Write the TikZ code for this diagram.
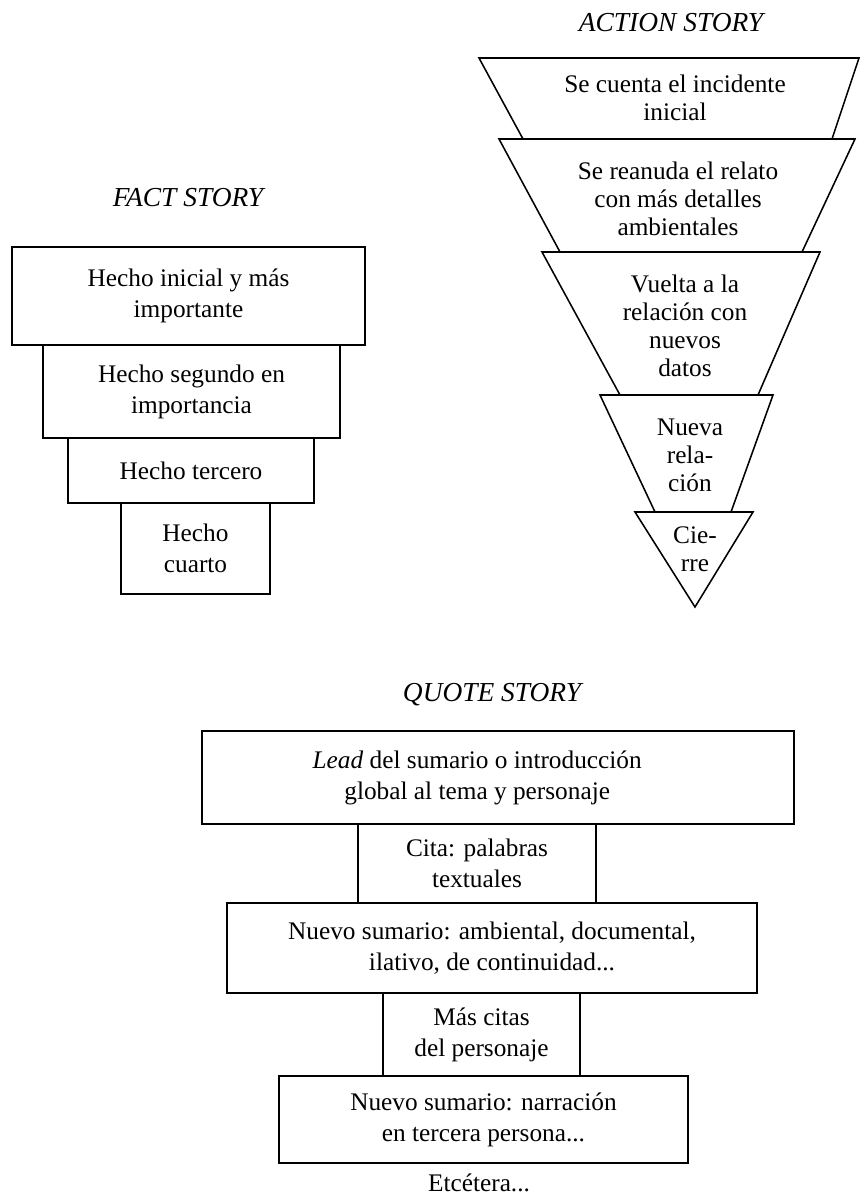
\documentclass[tikz,border=0pt]{standalone}
\usepackage{fontspec}
\setmainfont{Liberation Serif}
\usetikzlibrary{positioning}
\newcommand{\storyfont}{\fontsize{18}{22}\selectfont}
\newcommand{\funnelfont}{\fontsize{18}{20}\selectfont}
\newcommand{\titlefont}{\fontsize{19.5}{22}\selectfont\itshape}
\tikzset{
  % Box styles
  storybox/.style={rectangle, draw=black, line width=1.1pt, inner sep=2pt, align=center, font=\storyfont},
  funnelpiece/.style={draw=black, line width=1.1pt, line join=miter},
  % Text styles
  funneltext/.style={align=center, font=\funnelfont},
  storytext/.style={align=center, font=\storyfont},
  titlelabel/.style={font=\titlefont}
}

\begin{document}
\begin{tikzpicture}[x=0.025cm, y=-0.025cm]
  \useasboundingbox (0,0) rectangle (861,1197);

  % Fact story
  \node[titlelabel] (facttitle) at (188,198) {FACT STORY};
  \node[storybox, minimum width=8.83cm, minimum height=2.45cm] (hecho1) at (188.5,296) {Hecho inicial y más\\importante};
  \node[storybox, minimum width=7.43cm, minimum height=2.33cm] (hecho2) at (191.5,391.5) {Hecho segundo en\\importancia};
  \node[storybox, minimum width=6.15cm, minimum height=1.63cm] (hecho3) at (191,470.5) {Hecho tercero};
  \node[storybox, minimum width=3.73cm, minimum height=2.28cm] (hecho4) at (195.5,548.5) {Hecho\\cuarto};

  % Action story
  \node[titlelabel] (actiontitle) at (671,23) {ACTION STORY};
  \draw[funnelpiece] (479,58) -- (859,58) -- (832,139) -- (523,139) -- cycle;
  \draw[funnelpiece] (499,139) -- (855,139) -- (802,252) -- (560,252) -- cycle;
  \draw[funnelpiece] (542,252) -- (820,252) -- (758,395) -- (620,395) -- cycle;
  \draw[funnelpiece] (600,395) -- (773,395) -- (731,512) -- (655,512) -- cycle;
  \draw[funnelpiece] (635,512) -- (753,512) -- (695,607) -- cycle;
  \node[funneltext] (incidente) at (675,98) {Se cuenta el incidente\\inicial};
  \node[funneltext] (reanuda) at (678,199) {Se reanuda el relato\\con más detalles\\ambientales};
  \node[funneltext] (vuelta) at (685,326) {Vuelta a la\\relación con\\nuevos\\datos};
  \node[funneltext] (nueva) at (690,455) {Nueva\\rela-\\ción};
  \node[funneltext] (cierre) at (695,549) {Cie-\\rre};

  % Quote story
  \node[titlelabel] (quotetitle) at (492,695) {QUOTE STORY};
  \node[storybox, minimum width=14.8cm, minimum height=2.33cm] (lead) at (498,777.5) {};
  \node[storytext, xshift=-0.52cm] (leadtext) at (lead) {\textit{Lead} del sumario o introducción\\global al tema y personaje};
  \node[storybox, minimum width=5.95cm, minimum height=1.98cm] (cita) at (477,863.5) {Cita: palabras\\textuales};
  \node[storybox, minimum width=13.25cm, minimum height=2.25cm] (sumario1) at (492,948) {Nuevo sumario: ambiental, documental,\\ilativo, de continuidad...};
  \node[storybox, minimum width=4.93cm, minimum height=2.08cm] (citas) at (481.5,1034.5) {Más citas\\del personaje};
  \node[storybox, minimum width=10.23cm, minimum height=2.18cm] (sumario2) at (483.5,1119.5) {Nuevo sumario: narración\\en tercera persona...};
  \node[storytext, inner sep=1pt] (etcetera) at (479,1183) {Etcétera...};
\end{tikzpicture}
\end{document}
